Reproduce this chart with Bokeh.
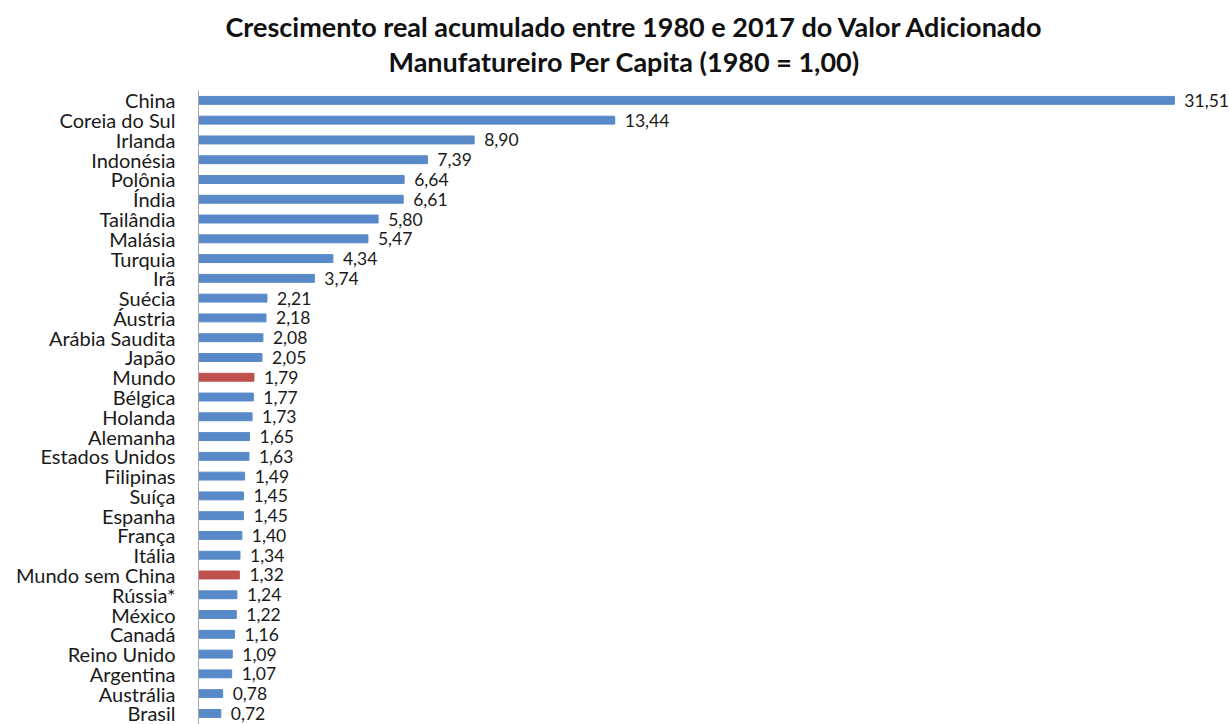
from bokeh.plotting import figure
from bokeh.models import ColumnDataSource, Range1d, FixedTicker, LabelSet, Title
from bokeh.core.properties import value
from bokeh.embed import file_html
from bokeh.resources import INLINE

title_line1 = "Crescimento real acumulado entre 1980 e 2017 do Valor Adicionado"
title_line2 = "Manufatureiro Per Capita (1980 = 1,00)"

countries = ["China", "Coreia do Sul", "Irlanda", "Indonésia", "Polônia", "Índia",
             "Tailândia", "Malásia", "Turquia", "Irã", "Suécia", "Áustria",
             "Arábia Saudita", "Japão", "Mundo", "Bélgica", "Holanda", "Alemanha",
             "Estados Unidos", "Filipinas", "Suíça", "Espanha", "França", "Itália",
             "Mundo sem China", "Rússia*", "México", "Canadá", "Reino Unido",
             "Argentina", "Austrália", "Brasil"]
values = [31.51, 13.44, 8.90, 7.39, 6.64, 6.61, 5.80, 5.47, 4.34, 3.74, 2.21, 2.18,
          2.08, 2.05, 1.79, 1.77, 1.73, 1.65, 1.63, 1.49, 1.45, 1.45, 1.40, 1.34,
          1.32, 1.24, 1.22, 1.16, 1.09, 1.07, 0.78, 0.72]
highlight = ["Mundo", "Mundo sem China"]

BLUE = "#5889C8"
RED = "#C0504D"
FONT = "Lato"

idx = list(range(len(countries)))
colors = [RED if c in highlight else BLUE for c in countries]
labels = [f"{v:.2f}".replace(".", ",") for v in values]

src = ColumnDataSource(dict(y=idx, v=values, c=colors, lab=labels))

p = figure(width=1229, height=724, output_backend="svg", toolbar_location=None,
           x_range=Range1d(0, 33.29), y_range=Range1d(31.56, -0.5),
           min_border_left=198, min_border_right=0, min_border_top=90,
           min_border_bottom=0, title=title_line1)
p.outline_line_color = None
p.background_fill_color = "white"
p.border_fill_color = "white"

p.hbar(y="y", left=0, right="v", height=0.4, color="c", source=src)

ls = LabelSet(x="v", y="y", text="lab", source=src, x_offset=10,
              text_baseline="middle", text_align="left",
              text_font=value(FONT), text_font_size="17.5px", text_color="#1a1a1a")
p.add_layout(ls)

p.xaxis.visible = False
p.xgrid.visible = False
p.ygrid.visible = False

ya = p.yaxis[0]
ya.ticker = FixedTicker(ticks=idx)
ya.major_label_overrides = {i: c for i, c in zip(idx, countries)}
ya.major_tick_line_color = None
ya.minor_tick_line_color = None
ya.axis_line_color = "#A6A6A6"
ya.major_label_text_font = FONT
ya.major_label_text_font_size = "20px"
ya.major_label_text_color = "#1a1a1a"
ya.major_label_standoff = 17

p.title.text_font = FONT
p.title.text_font_size = "27px"
p.title.text_font_style = "bold"
p.title.align = "left"
p.title.offset = 27
p.title.standoff = 0
p.title.text_color = "#111111"

spacer = Title(text=" ", text_font=FONT, text_font_size="6px", standoff=4)
p.add_layout(spacer, "above")

t2 = Title(text=title_line2, text_font=FONT, text_font_size="27px",
           text_font_style="bold", align="left", offset=190, standoff=0,
           text_color="#111111")
p.add_layout(t2, "above")

open("out.html", "w").write(file_html(p, INLINE))
